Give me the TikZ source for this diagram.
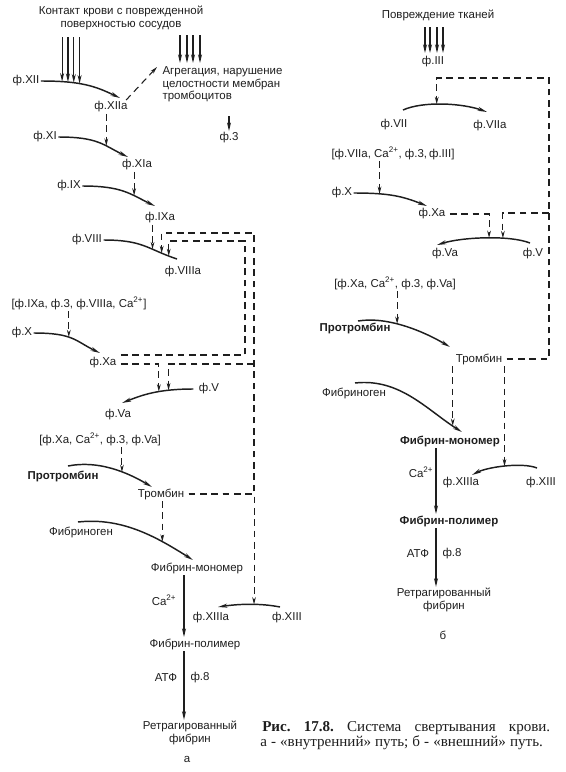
\documentclass[tikz,border=0pt]{standalone}
\usepackage{fontspec}
\setmainfont{Liberation Sans}
\newfontfamily\capfont{Liberation Serif}
\usetikzlibrary{arrows.meta}
\definecolor{ink}{RGB}{30,30,30}
\begin{document}
\begin{tikzpicture}[x=0.75pt,y=-0.75pt,
  lbl/.style={inner sep=1pt, text=ink, font=\fontsize{8.6}{9.2}\selectfont},
  bl/.style={inner sep=1pt, text=ink, font=\fontsize{8.6}{9.2}\selectfont\bfseries},
  crv/.style={draw=ink, line width=1.1pt, -{Stealth[length=7pt,width=3pt]}},
  crvn/.style={draw=ink, line width=1.1pt},
  dsh/.style={draw=ink, line width=0.8pt, dash pattern=on 5pt off 3.5pt, -{Stealth[length=5.5pt,width=2.8pt]}},
  dshn/.style={draw=ink, line width=0.8pt, dash pattern=on 5pt off 3.5pt},
  arr/.style={draw=ink, line width=0.9pt, -{Stealth[length=6.5pt,width=3pt]}}]
\useasboundingbox (0,0) rectangle (565,772);

% ================= Panel a =================
\node[lbl,align=center] (contact) at (121,18) {Контакт крови с поврежденной\\поверхностью сосудов};
\node[lbl,align=left,anchor=west] (agg) at (161,84.5) {Агрегация, нарушение\\целостности мембран\\тромбоцитов};
\node[lbl] (f3) at (229,138) {ф.3};
\node[lbl] (xii) at (26,81) {ф.XII};
\node[lbl] (xiia) at (111,107) {ф.XIIa};
\node[lbl] (xi) at (45,137) {ф.XI};
\node[lbl] (xia) at (137,165) {ф.XIa};
\node[lbl] (ix) at (69,186) {ф.IX};
\node[lbl] (ixa) at (160,218) {ф.IXa};
\node[lbl] (viii) at (87,240) {ф.VIII};
\node[lbl] (viiia) at (183,272) {ф.VIIIa};
\node[lbl] (brA1) at (79,303) {[ф.IXa, ф.3, ф.VIIIa, Ca\textsuperscript{2+}]};
\node[lbl] (xA) at (22,333) {ф.X};
\node[lbl] (xaA) at (103,363) {ф.Xa};
\node[lbl] (vA) at (209,389) {ф.V};
\node[lbl] (vaA) at (118,415) {ф.Va};
\node[lbl] (brA2) at (100,439) {[ф.Xa, Ca\textsuperscript{2+}, ф.3, ф.Va]};
\node[bl] (prA) at (63,476) {Протромбин};
\node[lbl] (thA) at (161,494) {Тромбин};
\node[lbl] (fgA) at (81,532) {Фибриноген};
\node[lbl] (fmA) at (197,568) {Фибрин-мономер};
\node[lbl] (caA) at (164,600) {Ca\textsuperscript{2+}};
\node[lbl] (xiiiaA) at (211,618) {ф.XIIIa};
\node[lbl] (xiiiA) at (287,618) {ф.XIII};
\node[lbl] (fpA) at (195,644) {Фибрин-полимер};
\node[lbl] (atpA) at (166,678) {АТФ};
\node[lbl] (f8A) at (200,678) {ф.8};
\node[lbl,align=center] (retA) at (190,733) {Ретрагированный\\фибрин};
\node[lbl] (labA) at (187,759) {а};

% free coordinates
\coordinate (kA) at (0,37);
\coordinate (tXIIa) at (120,98);
\coordinate (tXIa) at (128,157);
\coordinate (tIXa) at (155,206);
\coordinate (eVIIIa) at (177,259);
\coordinate (tXa) at (100,353);
\coordinate (tVa) at (122,403);
\coordinate (sPrA) at (68,466);
\coordinate (tThA) at (152,487);
\coordinate (sFgA) at (78,522);
\coordinate (tFmA) at (193,560);
\coordinate (sXIIIA) at (280,607);
\coordinate (tXIIIaA) at (218,607);
\coordinate (tAgg) at (157,67);
\coordinate (cAgg3) at (229,116);
\coordinate (cA1) at (254,233);
\coordinate (cA2) at (254,364);
\coordinate (cA3) at (245,241);
\coordinate (colA) at (184,0);

% curves
\draw[crv] (xii.east) .. controls +(40,0) and +(-25,-12) .. (tXIIa)
  coordinate[pos=.2] (k1) coordinate[pos=.265] (k2) coordinate[pos=.335] (k3) coordinate[pos=.41] (k4);
\draw[crv] (xi.east) .. controls +(40,0) and +(-25,-12) .. (tXIa) coordinate[pos=.64] (pXI);
\draw[crv] (ix.east) .. controls +(40,0) and +(-25,-12) .. (tIXa) coordinate[pos=.67] (pIX);
\draw[crvn] (viii.east) .. controls +(40,0) and +(-30,-10) .. (eVIIIa)
  coordinate[pos=.65] (pVIII1) coordinate[pos=.8] (pVIII2) coordinate[pos=.9] (pVIII3);
\draw[crv] (xA.east) .. controls +(40,0) and +(-25,-12) .. (tXa) coordinate[pos=.43] (pXA);
\draw[crv] ([shift={(-4,0)}]vA.west) .. controls +(-35,0) and +(20,-8) .. (tVa)
  coordinate[pos=.4] (pV1) coordinate[pos=.27] (pV2);
\draw[crv] (sPrA) .. controls +(30,-6) and +(-25,-15) .. (tThA) coordinate[pos=.62] (pPrA);
\draw[crv] (sFgA) .. controls +(45,-5) and +(-35,-22) .. (tFmA) coordinate[pos=.71] (pFgA);
\draw[crv] (sXIIIA) .. controls +(-20,-4) and +(20,-3) .. (tXIIIaA) coordinate[pos=.42] (pXIIIA);

% input arrows
\foreach \k in {k1,k2,k3,k4} \draw[arr] (\k |- kA) -- (\k);
\foreach \x in {180,187,193,200} \draw[arr] (\x,35) -- (\x,63);
\draw[arr] (cAgg3) -- (f3.north);

% dashed activations
\draw[dsh] ([shift={(-3,0)}]xiia.north east) -- (tAgg);
\draw[dsh] (pXI |- xiia.south) -- (pXI);
\draw[dsh] (pIX |- xia.south) -- (pIX);
\draw[dsh] (pVIII1 |- ixa.south) -- (pVIII1);
\draw[dsh] (pXA |- brA1.south) -- (pXA);
\draw[dsh] ([shift={(3,-8)}]xaA.east) -| (cA3) -| (pVIII3);
\draw[dsh] ([shift={(3,1)}]xaA.east) -| (pV1);
\draw[dsh] (pPrA |- brA2.south) -- (pPrA);
\draw[dsh] (pFgA |- thA.south) -- (pFgA);
\draw[dsh] ([shift={(3,0)}]thA.east) -| (cA1) -| (pVIII2);
\draw[dsh] ([shift={(3,0)}]thA.east) -| (pXIIIA);
\draw[dsh] (cA2) -| (pV2);

% solid steps
\draw[arr] (colA |- fmA.south) -- (colA |- fpA.north);
\draw[arr] (colA |- fpA.south) -- (colA |- retA.north);

% ================= Panel b =================
\node[lbl] (injB) at (438,15) {Повреждение тканей};
\node[lbl] (iii) at (433,62) {ф.III};
\node[lbl] (vii) at (394,125) {ф.VII};
\node[lbl] (viia) at (490,126) {ф.VIIa};
\node[lbl] (brB1) at (393,153) {[ф.VIIa, Ca\textsuperscript{2+}, ф.3,\,ф.III]};
\node[lbl] (xB) at (342,193) {ф.X};
\node[lbl] (xaB) at (432,214) {ф.Xa};
\node[lbl] (vaB) at (445,254) {ф.Va};
\node[lbl] (vB) at (533,254) {ф.V};
\node[lbl] (brB2) at (395,283) {[ф.Xa, Ca\textsuperscript{2+}, ф.3, ф.Va]};
\node[bl] (prB) at (355,328) {Протромбин};
\node[lbl] (thB) at (479,359) {Тромбин};
\node[lbl] (fgB) at (354,393) {Фибриноген};
\node[bl] (fmB) at (450,441) {Фибрин-мономер};
\node[lbl] (caB) at (421,472) {Ca\textsuperscript{2+}};
\node[lbl] (xiiiaB) at (461,483) {ф.XIIIa};
\node[lbl] (xiiiB) at (541,483) {ф.XIII};
\node[bl] (fpB) at (449,521) {Фибрин-полимер};
\node[lbl] (atpB) at (418,554) {АТФ};
\node[lbl] (f8B) at (452,554) {ф.8};
\node[lbl,align=center] (retB) at (444,600) {Ретрагированный\\фибрин};
\node[lbl] (labB) at (443,635) {б};

\coordinate (sVII) at (403,110);
\coordinate (tVIIa) at (487,112);
\coordinate (tXaB) at (427,206);
\coordinate (sVB) at (530,243);
\coordinate (tVaB) at (437,245);
\coordinate (sPrB) at (358,321);
\coordinate (tThB) at (450,347);
\coordinate (sFgB) at (355,383);
\coordinate (tFmB) at (462,432);
\coordinate (sXIIIB) at (537,468);
\coordinate (tXIIIaB) at (472,475);
\coordinate (cB1) at (549,78);
\coordinate (cB2) at (549,213);
\coordinate (colB) at (436,0);

\foreach \x in {425,430,437,443} \draw[arr] (\x,27) -- (\x,53);

\draw[crv] (sVII) .. controls +(20,-9) and +(-25,-9) .. (tVIIa) coordinate[pos=.43] (pVII);
\draw[crv] (xB.east) .. controls +(35,0) and +(-25,-10) .. (tXaB) coordinate[pos=.29] (pXB);
\draw[crv] (sVB) .. controls +(-20,-8) and +(25,-8) .. (tVaB)
  coordinate[pos=.465] (pVB1) coordinate[pos=.33] (pVB2);
\draw[crv] (sPrB) .. controls +(30,-5) and +(-25,-15) .. (tThB) coordinate[pos=.41] (pPrB);
\draw[crv] (sFgB) .. controls +(45,-5) and +(-35,-22) .. (tFmB) coordinate[pos=.91] (pFgB);
\draw[crv] (sXIIIB) .. controls +(-15,-6) and +(15,-8) .. (tXIIIaB) coordinate[pos=.5] (pXIIIB);

\draw[dsh] ([shift={(3,0)}]thB.east) -| (cB1) -| (pVII);
\draw[dsh] (cB2) -| (pVB2);
\draw[dsh] ([shift={(3,0)}]xaB.east) -| (pVB1);
\draw[dsh] (pXB |- brB1.south) -- (pXB);
\draw[dsh] (pPrB |- brB2.south) -- (pPrB);
\draw[dsh] (pFgB |- thB.south) -- (pFgB);
\draw[dsh] (pXIIIB |- thB.south) -- (pXIIIB);

\draw[arr] (colB |- fmB.south) -- (colB |- fpB.north);
\draw[arr] (colB |- fpB.south) -- (colB |- retB.north);

% ================= Caption =================
\node[anchor=west,inner sep=0,text=ink] (cap1) at (262,728)
  {\capfont\fontsize{11.3}{13}\selectfont\frenchspacing\makebox[216pt][s]{\textbf{Рис.} \textbf{17.8.} Система свертывания крови.}};
\node[anchor=west,inner sep=0,text=ink] (cap2) at (260,743)
  {\capfont\fontsize{11.3}{13}\selectfont\frenchspacing\makebox[212pt][s]{а - «внутренний» путь; б - «внешний» путь.}};
\end{tikzpicture}
\end{document}
